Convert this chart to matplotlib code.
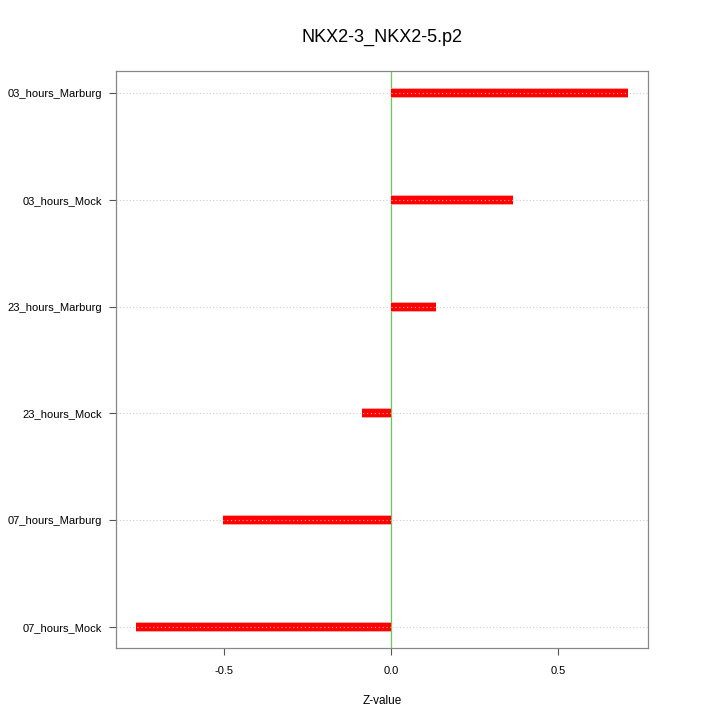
import numpy as np
import matplotlib
matplotlib.use("Agg")
import matplotlib.pyplot as plt

plt.rcParams["font.family"] = ["Liberation Sans", "DejaVu Sans"]

categories = ["07_hours_Mock", "07_hours_Marburg", "23_hours_Mock",
              "23_hours_Marburg", "03_hours_Mock", "03_hours_Marburg"]
zvalues = [-0.763, -0.502, -0.087, 0.135, 0.365, 0.710]
xticks = [-0.5, 0.0, 0.5]
xticklabels = ["-0.5", "0.0", "0.5"]

y = np.arange(1, len(categories) + 1)

fig = plt.figure(figsize=(7.2, 7.2), dpi=100)
ax = fig.add_axes([0.161, 0.1, 0.739, 0.801])

# dotted reference lines behind the bars
for yy in y:
    ax.axhline(yy, color="#cccccc", lw=0.8, ls=(0, (1, 2)), zorder=1)
ax.axvline(0, color="#66cc55", lw=0.9, zorder=2)

ax.hlines(y, 0, zvalues, color="#ff9999", lw=7.0, zorder=3)
ax.hlines(y, 0, zvalues, color="red", lw=5.8, zorder=4)
ax.hlines(y, 0, zvalues, color="#ffaaaa", lw=0.8, ls=(0, (1, 2.5)), zorder=5)

ax.set_xlim(-0.823, 0.769)
ax.set_ylim(0.803, 6.206)
ax.set_xticks(xticks)
ax.set_xticklabels(xticklabels, fontsize=8)
ax.set_yticks(y)
ax.set_yticklabels(categories, fontsize=8)
ax.tick_params(axis="y", length=5, width=0.8, color="#555555", pad=5)
ax.tick_params(axis="x", length=5, width=0.8, color="#555555", pad=8)

for s in ax.spines.values():
    s.set_color("#888888")
    s.set_linewidth(0.9)

ax.set_xlabel("Z-value", fontsize=8.5, labelpad=14)
ax.set_title("NKX2-3_NKX2-5.p2", fontsize=13, pad=21)

fig.savefig("out.png", dpi=100)
